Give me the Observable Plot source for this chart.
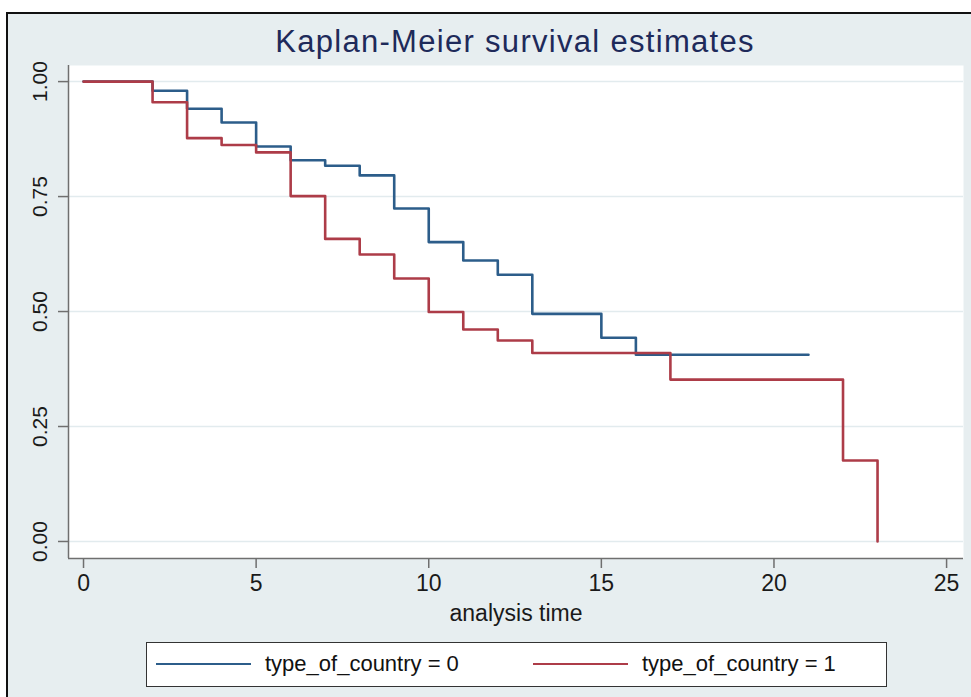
<!DOCTYPE html>
<html>
<head>
<meta charset="utf-8">
<script src="https://cdn.jsdelivr.net/npm/d3@7"></script>
<script src="https://cdn.jsdelivr.net/npm/@observablehq/plot@0.6"></script>
<style>
  html, body { margin: 0; padding: 0; background: #ffffff; }
  #page { position: relative; width: 971px; height: 697px; overflow: hidden; background: #ffffff; font-family: "Liberation Sans", Arial, Helvetica, sans-serif; }
  #region { position: absolute; left: 6px; top: 12px; width: 980px; height: 700px; background: #e7eef0; border-left: 2px solid #111; border-top: 2px solid #111; }
  #title { position: absolute; left: 0; top: 22px; width: 1030px; text-align: center; font-size: 31px; letter-spacing: 1.3px; color: #1e2a5a; line-height: 40px; }
  #chart { position: absolute; left: 0; top: 60px; }
  #legend { position: absolute; left: 146px; top: 642px; width: 739px; height: 43px; background: #ffffff; border: 1px solid #333; }
  .sw { position: absolute; top: 20px; width: 95px; height: 0; border-top: 2px solid; }
  .lt { position: absolute; top: 8px; font-size: 22px; color: #111; line-height: 26px; white-space: nowrap; }
</style>
</head>
<body>
<div id="page">
  <div id="region"></div>
  <div id="title">Kaplan-Meier survival estimates</div>
  <div id="chart"></div>
  <div id="legend"></div>
</div>
<script>
// Survival estimates (step function, value holds until next time)
const blueTimes = [0, 2, 3, 4, 5, 6, 7, 8, 9, 10, 11, 12, 13, 15, 16, 21];
const blueSurv  = [1, 0.980, 0.941, 0.911, 0.859, 0.829, 0.817, 0.796, 0.724, 0.651, 0.611, 0.580, 0.495, 0.443, 0.406, 0.406];
const redTimes  = [0, 2, 3, 4, 5, 6, 7, 8, 9, 10, 11, 12, 13, 17, 22, 23];
const redSurv   = [1, 0.955, 0.877, 0.862, 0.846, 0.751, 0.658, 0.624, 0.572, 0.499, 0.461, 0.437, 0.410, 0.352, 0.176, 0];
const seriesNames = ["type_of_country = 0", "type_of_country = 1"];
const seriesColors = ["#2c5d8a", "#ad3c48"];
const xTicks = [0, 5, 10, 15, 20, 25];
const yTicks = [0, 0.25, 0.5, 0.75, 1];
const xLabel = "analysis time";

const blueData = blueTimes.map((t, i) => ({t, s: blueSurv[i]}));
const redData = redTimes.map((t, i) => ({t, s: redSurv[i]}));

const xDom = [-0.435, 25.49];
const yDom = [-0.037, 1.035];

const chart = Plot.plot({
  width: 971,
  height: 570,
  marginLeft: 68,
  marginRight: 8,
  marginTop: 5,
  marginBottom: 72,
  style: { background: "transparent", fontFamily: "'Liberation Sans', Arial, Helvetica, sans-serif", color: "#111" },
  x: { domain: xDom, label: null },
  y: { domain: yDom, label: null },
  marks: [
    Plot.frame({ fill: "#ffffff", stroke: "none" }),
    Plot.ruleY(yTicks, { stroke: "#e2ebee", strokeWidth: 1.5 }),
    Plot.ruleX([xDom[0]], { stroke: "#6f6f6f", strokeWidth: 1.5 }),
    Plot.ruleY([yDom[0]], { stroke: "#6f6f6f", strokeWidth: 1.5 }),
    Plot.axisY({ ticks: yTicks, tickSize: 10, tickFormat: () => "", label: null, stroke: "#6f6f6f", strokeWidth: 1.5 }),
    Plot.text(yTicks, { y: d => d, text: d => d3.format(".2f")(d), frameAnchor: "left", dx: -28, rotate: -90, textAnchor: "middle", lineAnchor: "middle", fontSize: 21, fill: "#1a1a1a" }),
    Plot.axisX({ ticks: xTicks, tickSize: 10, tickPadding: 6, fontSize: 23, label: null, stroke: "#6f6f6f", strokeWidth: 1.5, fill: "#1a1a1a" }),
    Plot.text([xLabel], { frameAnchor: "bottom", dy: 55, fontSize: 23, fill: "#1a1a1a", lineAnchor: "middle" }),
    Plot.line(blueData, { x: "t", y: "s", curve: "step-after", stroke: seriesColors[0], strokeWidth: 2.6 }),
    Plot.line(redData, { x: "t", y: "s", curve: "step-after", stroke: seriesColors[1], strokeWidth: 2.6 })
  ]
});
document.getElementById("chart").appendChild(chart);

// Legend
const legend = document.getElementById("legend");
const swLeft = [9, 386];
const txtLeft = [118, 495];
seriesNames.forEach((name, i) => {
  const sw = document.createElement("div");
  sw.className = "sw";
  sw.style.left = swLeft[i] + "px";
  sw.style.borderTopColor = seriesColors[i];
  legend.appendChild(sw);
  const tx = document.createElement("div");
  tx.className = "lt";
  tx.style.left = txtLeft[i] + "px";
  tx.textContent = name;
  legend.appendChild(tx);
});
</script>
</body>
</html>
